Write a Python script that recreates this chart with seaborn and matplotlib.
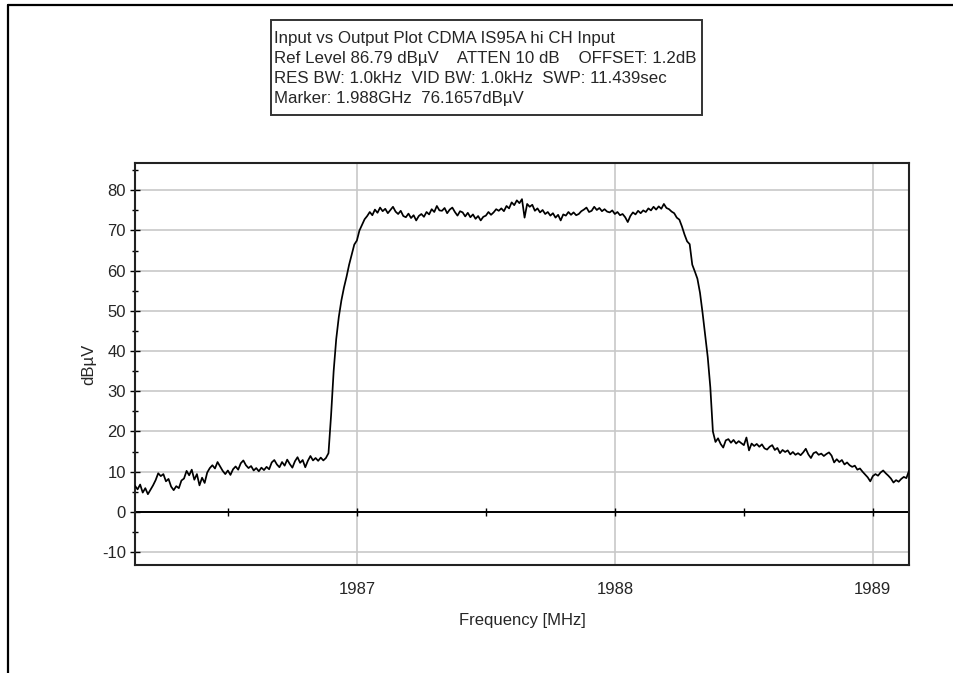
import matplotlib
matplotlib.use("Agg")
import matplotlib.pyplot as plt
from matplotlib.lines import Line2D
from matplotlib.patches import Rectangle
from matplotlib.ticker import MultipleLocator
import numpy as np
import pandas as pd
import seaborn as sns

# sweep settings
sweep_start_mhz = 1986.14
sweep_stop_mhz = 1989.14

# trace level (dBuV), one point per 10 kHz across the sweep
level_dbuv = [
    6.5, 5.6, 6.8, 4.8, 5.9, 4.4, 5.5, 6.6, 7.9, 9.6,
    8.9, 9.4, 7.6, 8.2, 6.3, 5.4, 6.4, 5.9, 7.8, 8.3,
    10.2, 9.1, 10.5, 8.0, 9.4, 6.6, 8.5, 7.2, 9.8, 10.9,
    11.6, 10.8, 12.4, 11.3, 10.2, 9.4, 10.3, 9.2, 10.6, 11.3,
    10.5, 12.1, 12.8, 11.6, 10.9, 11.4, 10.3, 10.9, 10.1, 11.0,
    10.4, 11.2, 10.6, 12.3, 12.9, 11.8, 11.1, 12.4, 11.5, 13.0,
    11.9, 11.0, 12.6, 13.6, 12.2, 12.9, 11.1, 12.7, 13.9, 12.8,
    13.4, 12.7, 13.5, 12.8, 13.4, 14.6, 24.0, 35.0, 43.0, 48.5,
    52.6, 55.8, 58.5, 61.5, 64.0, 66.5, 67.5, 70.0, 71.4, 72.8,
    73.6, 74.6, 73.8, 75.2, 74.4, 75.7, 74.8, 75.4, 74.3, 75.1,
    75.9, 74.7, 74.1, 74.9, 73.6, 73.3, 74.2, 73.1, 73.8, 72.5,
    73.6, 74.1, 73.4, 74.6, 74.0, 75.3, 74.6, 76.1, 75.0, 74.9,
    75.6, 74.3, 75.2, 75.7, 74.6, 73.7, 74.8, 74.5, 73.5, 74.4,
    73.3, 74.0, 72.9, 73.6, 72.5, 73.4, 73.7, 74.6, 73.9, 74.5,
    75.3, 74.9, 75.5, 74.8, 76.1, 75.5, 77.0, 76.3, 77.5, 76.8,
    77.8, 73.2, 76.6, 75.9, 76.4, 74.9, 75.5, 74.5, 75.1, 74.1,
    74.6, 73.7, 74.3, 73.2, 73.9, 72.5, 74.0, 73.7, 74.6, 73.9,
    74.5, 73.8, 74.1, 74.8, 75.2, 75.7, 74.6, 74.9, 75.9, 75.1,
    75.6, 74.8, 75.3, 74.7, 74.5, 75.0, 74.1, 74.6, 73.8, 74.1,
    73.3, 72.1, 73.6, 74.5, 74.0, 74.9, 74.3, 75.0, 74.6, 75.5,
    75.0, 75.9, 75.2, 76.0, 75.4, 76.6, 75.6, 75.3, 74.7, 74.3,
    73.2, 72.7, 71.0, 69.0, 67.3, 66.6, 61.5, 59.8, 58.0, 54.5,
    49.5, 44.0, 38.5, 31.0, 20.0, 17.4, 18.3, 16.9, 16.0, 17.8,
    18.1, 17.2, 17.9, 17.0, 17.6, 17.1, 16.6, 18.5, 15.3, 17.0,
    16.4, 16.9, 16.2, 16.8, 15.8, 15.5, 16.2, 16.6, 15.4, 15.9,
    14.6, 15.4, 14.9, 15.3, 14.3, 14.9, 14.2, 14.6, 14.1, 14.8,
    15.7, 14.3, 13.4, 14.6, 14.9, 14.2, 14.5, 13.9, 14.4, 14.8,
    14.0, 12.3, 13.1, 12.4, 12.9, 11.8, 12.3, 11.6, 11.2, 11.5,
    10.5, 10.8, 10.0, 9.3, 8.6, 7.6, 8.9, 9.4, 9.0, 9.8,
    10.3, 9.6, 9.0, 8.3, 7.3, 7.9, 7.5, 8.2, 8.7, 8.4,
    10.2,
]

info_lines = [
    "Input vs Output Plot CDMA IS95A hi CH Input",
    "Ref Level 86.79 dBµV    ATTEN 10 dB    OFFSET: 1.2dB",
    "RES BW: 1.0kHz  VID BW: 1.0kHz  SWP: 11.439sec",
    "Marker: 1.988GHz  76.1657dBµV",
]

x_major_ticks = [1987, 1988, 1989]
y_major_ticks = [-10, 0, 10, 20, 30, 40, 50, 60, 70, 80]
y_bottom, y_top = -13.21, 86.79

df = pd.DataFrame({
    "freq": np.linspace(sweep_start_mhz, sweep_stop_mhz, len(level_dbuv)),
    "level": level_dbuv,
})

sns.set_style("white")
plt.rcParams["font.family"] = ["Liberation Sans", "DejaVu Sans"]
plt.rcParams["axes.unicode_minus"] = False

W, H = 954, 673
fig = plt.figure(figsize=(W / 100, H / 100), dpi=100)
ax = fig.add_axes([0.1415, 0.1605, 0.8113, 0.5973])

grid_col = "#c8c8c8"
for v in y_major_ticks:
    ax.axhline(v, color=grid_col, lw=1.2, zorder=0)
for v in x_major_ticks:
    ax.axvline(v, color=grid_col, lw=1.2, zorder=0)
ax.axhline(0, color="black", lw=1.4, zorder=1)

sns.lineplot(data=df, x="freq", y="level", ax=ax, color="black",
             linewidth=1.25, estimator=None, zorder=3)

ax.set_xlim(sweep_start_mhz, sweep_stop_mhz)
ax.set_ylim(y_bottom, y_top)

ax.set_xticks(x_major_ticks)
ax.set_yticks(y_major_ticks)
ax.yaxis.set_minor_locator(MultipleLocator(5))
ax.tick_params(axis="x", length=0, pad=12, labelsize=12)
ax.tick_params(axis="y", which="major", left=True, direction="inout",
               length=7, width=1, pad=3, labelsize=12, color="black")
ax.tick_params(axis="y", which="minor", left=True, direction="inout",
               length=5, width=1, color="black")

for s in ax.spines.values():
    s.set_color("#222222")
    s.set_linewidth(1.5)

# ticks sitting on the 0 dB line
zero_pos = (0 - y_bottom) / (y_top - y_bottom)
sec = ax.secondary_xaxis(zero_pos)
sec.set_xticks(x_major_ticks)
sec.xaxis.set_minor_locator(MultipleLocator(0.5))
sec.tick_params(which="both", bottom=True, direction="inout", length=6,
                width=1, labelbottom=False, colors="black")
sec.spines["bottom"].set_visible(False)

ax.set_xlabel("Frequency [MHz]", fontsize=12, labelpad=12)
ax.set_ylabel("dBµV", fontsize=12, labelpad=4)

# header box
fig.add_artist(Rectangle((271 / W, 1 - 115 / H), 431 / W, 95 / H,
                         transform=fig.transFigure, fc="white",
                         ec="#333333", lw=1.4))
for k, line in enumerate(info_lines):
    fig.text(274 / W, 1 - (37 + 20 * k) / H, line, ha="left",
             va="center_baseline", fontsize=12.2)

# outer window edges
fig.add_artist(Line2D([8 / W, 1], [1 - 5 / H, 1 - 5 / H],
                      transform=fig.transFigure, color="black", lw=1.6))
fig.add_artist(Line2D([8 / W, 8 / W], [0, 1 - 5 / H],
                      transform=fig.transFigure, color="black", lw=1.6))

fig.savefig("out.png", dpi=100)
